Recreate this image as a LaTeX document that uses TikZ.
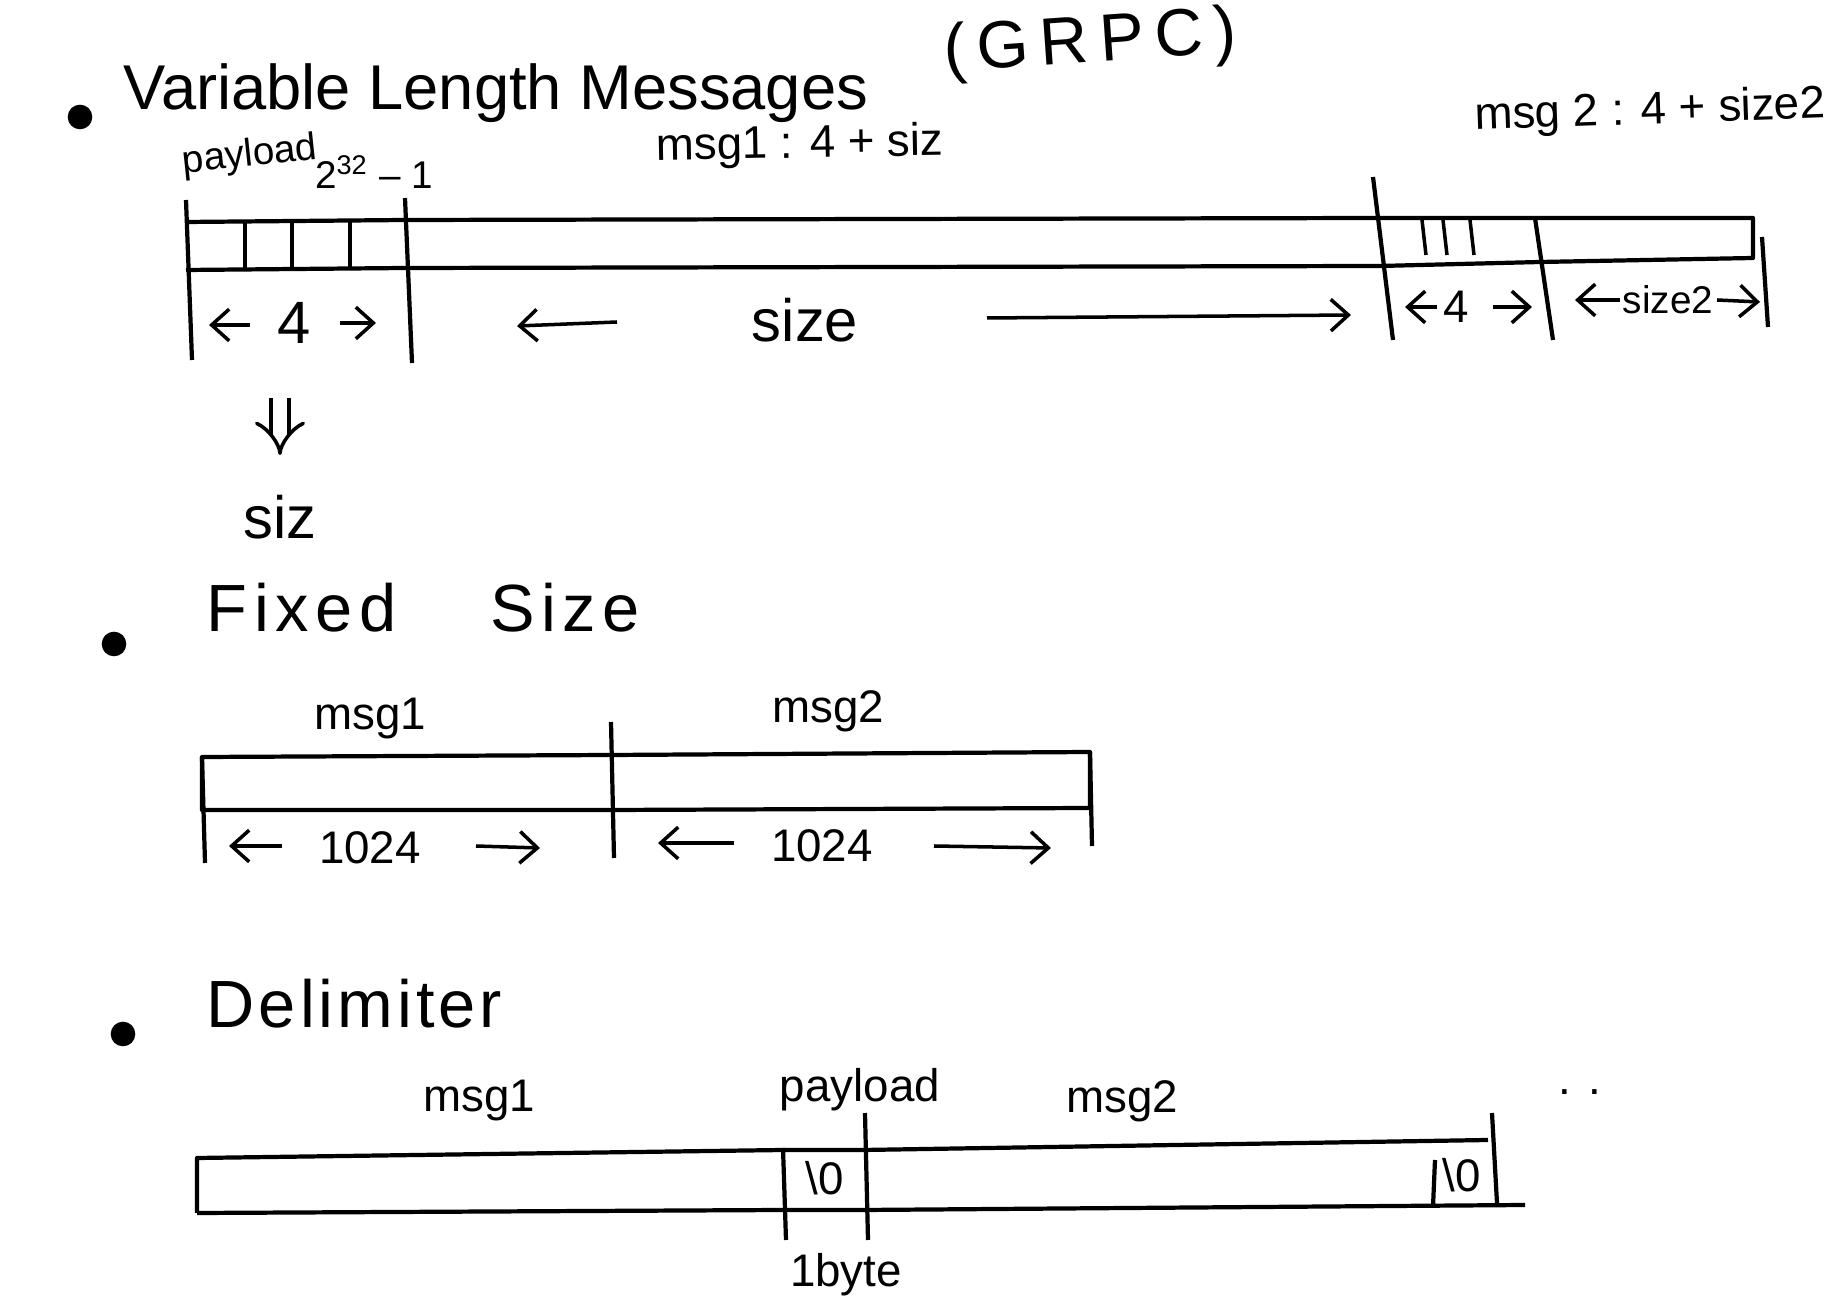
\documentclass[tikz,border=0pt]{standalone}
\usepackage{fontspec}
\setmainfont{Liberation Sans}
\usetikzlibrary{positioning,calc}
\usetikzlibrary{arrows.meta}
\tikzset{
  bar/.style={draw=black,line width=1.2pt,line join=round},
  sep/.style={draw=black,line width=1.2pt},
  tick/.style={draw=black,line width=1pt},
  dim/.style={draw=black,line width=1pt,-{Straight Barb[length=5pt,width=9pt]}},
  imp/.style={draw=black,line width=1pt,double,double distance=4pt,-{Implies}},
  bullet/.style={circle,fill=black,inner sep=0pt,minimum size=7pt},
  head/.style={font=\fontsize{19}{23}\selectfont,inner sep=0pt},
  big/.style={font=\fontsize{17}{20}\selectfont,inner sep=1pt},
  lbl/.style={font=\fontsize{13}{15}\selectfont,inner sep=1pt},
  small/.style={font=\fontsize{11}{13}\selectfont,inner sep=1pt},
}

\begin{document}
\begin{tikzpicture}[x=0.1mm,y=-0.1mm]
\useasboundingbox (0,0) rectangle (1842,1310);
\node[bullet] (b1) at (80,117) {};
\node[head,font=\fontsize{18}{22}\selectfont,anchor=base west] (vlm) at (123,110) {Variable Length Messages};
\node[head,anchor=base west,rotate=4] (grpc) at (945,72) {(\,G\,R\,P\,C\,)};
\node[lbl,rotate=1] (m1sum) at (800,146) {msg1 : 4 + siz};
\node[lbl,rotate=2] (m2sum) at (1650,112) {msg 2 : 4 + size2};
\node[small,rotate=6] (pl) at (250,156) {payload};
\node[small] (pow) at (374,172) {2\textsuperscript{32} -- 1};

\coordinate (t0) at (186,222);
\coordinate (t1) at (405,220);
\coordinate (t2) at (1380,218);
\coordinate (t3) at (1540,218);
\coordinate (t4) at (1753,218);
\coordinate (u0) at (186,270);
\coordinate (u1) at (405,268);
\coordinate (u2) at (1380,266);
\coordinate (u3) at (1540,262);
\coordinate (u4) at (1753,258);
\draw[bar] (t0) -- (t1) -- (t2) -- (t3) -- (t4) -- (u4) -- (u3) -- (u2) -- (u1) -- (u0);
\draw[sep] (186,200) -- (192,360);
\draw[sep] (405,198) -- (412,363);
\draw[sep] (1373,177) -- (1393,340);
\draw[sep] (1535,218) -- (1553,340);
\draw[sep] (1762,237) -- (1768,327);
\foreach \x in {245,292,350} \draw[tick] (\x,222) -- (\x,270);
\foreach \x in {1422,1443,1470} \draw[tick] (\x,220) -- (\x+4,255);

\node[big] (n4) at (294,323) {4};
\coordinate (n4la) at (250,325);
\coordinate (n4lb) at (209,325);
\coordinate (n4ra) at (340,323);
\coordinate (n4rb) at (376,323);
\draw[dim] (n4la) -- (n4lb);
\draw[dim] (n4ra) -- (n4rb);
\node[big] (sz) at (805,320) {size};
\coordinate (szla) at (617,322);
\coordinate (szlb) at (517,326);
\coordinate (szra) at (987,318);
\coordinate (szrb) at (1351,315);
\draw[dim] (szla) -- (szlb);
\draw[dim] (szra) -- (szrb);
\node[lbl] (n4b) at (1456,307) {4};
\coordinate (n4bla) at (1437,307);
\coordinate (n4blb) at (1405,307);
\coordinate (n4bra) at (1493,307);
\coordinate (n4brb) at (1532,307);
\draw[dim] (n4bla) -- (n4blb);
\draw[dim] (n4bra) -- (n4brb);
\node[small] (sz2) at (1668,300) {size2};
\coordinate (sz2la) at (1620,300);
\coordinate (sz2lb) at (1575,300);
\coordinate (sz2ra) at (1717,300);
\coordinate (sz2rb) at (1760,302);
\draw[dim] (sz2la) -- (sz2lb);
\draw[dim] (sz2ra) -- (sz2rb);
\coordinate (dn0) at (280,398);
\coordinate (dn1) at (280,455);
\draw[imp] (dn0) -- (dn1);
\node[big] (siz) at (280,517) {siz};

\node[bullet] (b2) at (114,644) {};
\node[head,anchor=base west] (fix) at (206,632) {\addfontfeature{LetterSpace=10}Fixed\hspace{1.4em}Size};
\node[lbl] (fm1) at (370,719) {msg1};
\node[lbl] (fm2) at (828,711) {msg2};
\coordinate (f0) at (202,757);
\coordinate (f1) at (611,755);
\coordinate (f2) at (1090,752);
\coordinate (g0) at (202,810);
\coordinate (g1) at (611,810);
\coordinate (g2) at (1090,808);
\draw[bar] (f0) -- (f1) -- (f2) -- (g2) -- (g1) -- (g0) -- cycle;
\draw[sep] (202,757) -- (205,863);
\draw[sep] (611,722) -- (614,858);
\draw[sep] (1090,752) -- (1092,846);
\node[lbl] (k1) at (370,848) {1024};
\coordinate (k1la) at (282,846);
\coordinate (k1lb) at (229,846);
\coordinate (k1ra) at (476,846);
\coordinate (k1rb) at (540,848);
\draw[dim] (k1la) -- (k1lb);
\draw[dim] (k1ra) -- (k1rb);
\node[lbl] (k2) at (822,846) {1024};
\coordinate (k2la) at (734,843);
\coordinate (k2lb) at (658,843);
\coordinate (k2ra) at (934,846);
\coordinate (k2rb) at (1051,848);
\draw[dim] (k2la) -- (k2lb);
\draw[dim] (k2ra) -- (k2rb);

\node[bullet] (b3) at (123,1034) {};
\node[head,anchor=base west] (dlm) at (206,1028) {\addfontfeature{LetterSpace=6}Delimiter};
\node[lbl] (dm1) at (479,1101) {msg1};
\node[lbl] (dpl) at (860,1090) {payload};
\node[lbl] (dm2) at (1122,1101) {msg2};
\node[lbl] (dots) at (1580,1092) {. .};
\coordinate (d0) at (197,1158);
\coordinate (d1) at (783,1150);
\coordinate (d2) at (863,1150);
\coordinate (d3) at (1488,1140);
\coordinate (e0) at (197,1213);
\coordinate (e1) at (783,1210);
\coordinate (e2) at (863,1210);
\coordinate (e3) at (1525,1205);
\draw[bar] (e0) -- (d0) -- (d1) -- (d2) -- (d3);
\draw[bar] (e0) -- (e1) -- (e2) -- (e3);
\draw[sep] (783,1148) -- (786,1240);
\draw[sep] (865,1113) -- (868,1240);
\draw[sep] (1435,1160) -- (1433,1207);
\draw[sep] (1492,1113) -- (1497,1203);
\node[lbl] (z1) at (825,1178) {\textbackslash 0};
\node[lbl] (z2) at (1462,1175) {\textbackslash 0};
\node[lbl] (byte) at (846,1275) {1byte};
\end{tikzpicture}
\end{document}
